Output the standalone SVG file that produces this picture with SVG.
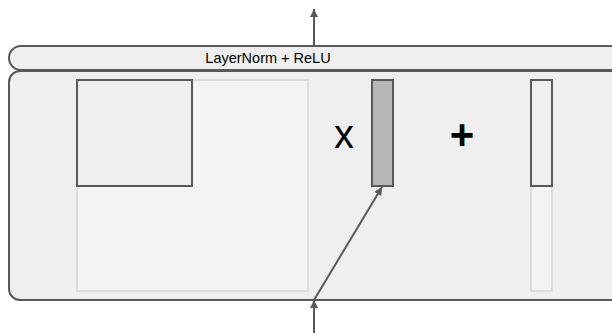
<svg xmlns="http://www.w3.org/2000/svg" width="612" height="333" viewBox="0 0 612 333">
  <style>
    .panel { fill: #efefef; stroke: #595959; stroke-width: 2; }
    .ghost { fill: #f3f3f3; stroke: #dcdcdc; stroke-width: 2; }
    .block { fill: #efefef; stroke: #595959; stroke-width: 2; }
    .gate { fill: #b7b7b7; stroke: #595959; stroke-width: 2; }
    .edge { fill: none; stroke: #595959; stroke-width: 2; }
    .label { font-family: "Liberation Sans", Arial, sans-serif; fill: #000; }
  </style>
  <defs>
    <marker id="arrow" viewBox="0 0 10 10" refX="10" refY="5" markerWidth="14" markerHeight="8" markerUnits="userSpaceOnUse" orient="auto">
      <path d="M0,0 L10,5 L0,10 z" fill="#595959"/>
    </marker>
  </defs>

  <!-- layer body -->
  <g id="layer-body">
    <rect class="panel" x="9" y="71" width="620" height="229" rx="11" ry="11"/>
  </g>

  <!-- normalisation bar -->
  <g id="layernorm">
    <rect class="panel" x="9" y="46" width="620" height="24" rx="12" ry="12"/>
    <text class="label" x="268" y="63" font-size="14.5" text-anchor="middle">LayerNorm + ReLU</text>
  </g>

  <!-- weight matrix -->
  <g id="weight-matrix">
    <rect class="ghost" x="77" y="80" width="231" height="211"/>
    <rect class="block" x="77" y="80" width="115" height="106"/>
  </g>

  <g id="times-sign">
    <text class="label" x="344" y="148" font-size="40" text-anchor="middle">x</text>
  </g>

  <!-- input vector -->
  <g id="input-vector">
    <rect class="gate" x="372" y="80" width="21" height="106"/>
  </g>

  <g id="plus-sign">
    <text class="label" x="462" y="149" font-size="42" font-weight="bold" text-anchor="middle">+</text>
  </g>

  <!-- bias vector -->
  <g id="bias-vector">
    <rect class="ghost" x="531" y="80" width="21" height="211"/>
    <rect class="block" x="531" y="80" width="21" height="106"/>
  </g>

  <!-- connectors -->
  <g id="connectors">
    <line class="edge" x1="314" y1="46" x2="314" y2="9" marker-end="url(#arrow)"/>
    <line class="edge" x1="314" y1="333" x2="314" y2="300" marker-end="url(#arrow)"/>
    <line class="edge" x1="314" y1="300" x2="382" y2="187" marker-end="url(#arrow)"/>
  </g>
</svg>
